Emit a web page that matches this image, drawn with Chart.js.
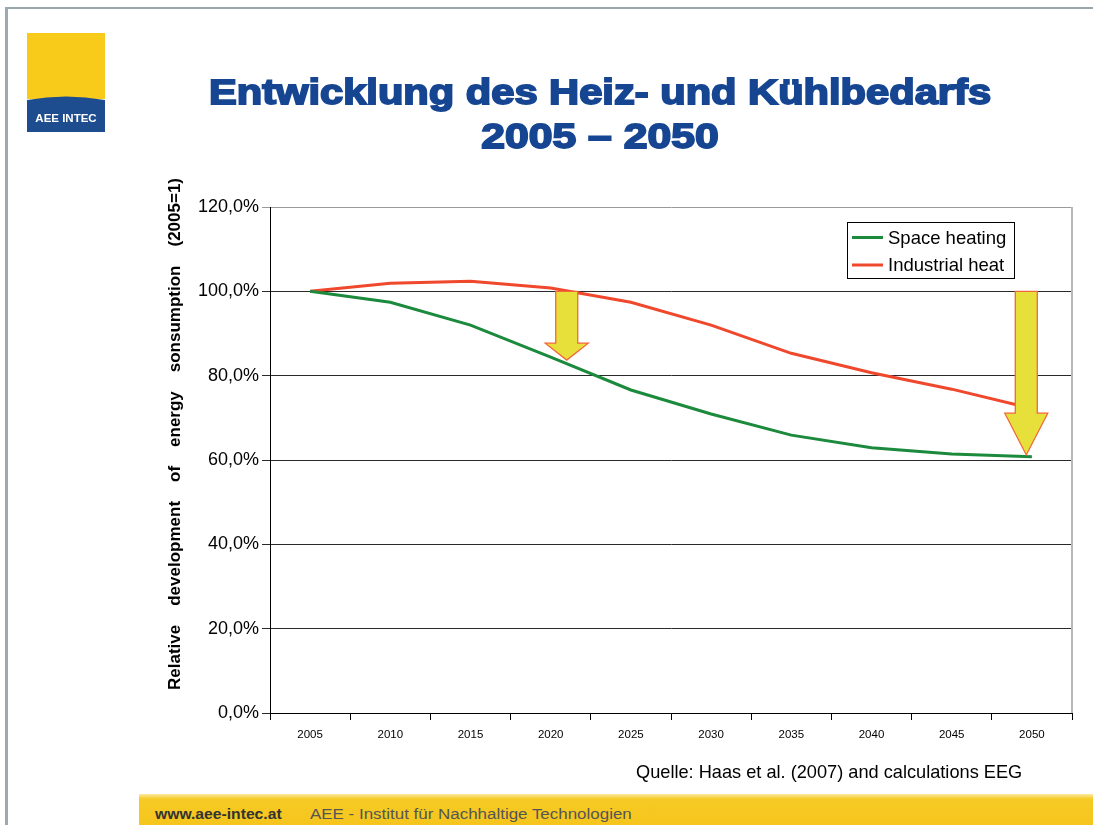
<!DOCTYPE html>
<html lang="de">
<head>
<meta charset="utf-8">
<title>Entwicklung des Heiz- und Kühlbedarfs 2005 – 2050</title>
<script src="https://cdn.jsdelivr.net/npm/chart.js@4.4.1/dist/chart.umd.min.js"></script>
<style>
  html, body { margin: 0; padding: 0; background: #fff; }
  body { width: 1093px; height: 825px; position: relative; overflow: hidden; font-family: "Liberation Sans", Arial, sans-serif; }
  #chart { position: absolute; left: 0; top: 0; }
  .frame-top { position: absolute; left: 5px; top: 7px; width: 1088px; height: 2px; background: #9aa6ae; }
  .frame-left { position: absolute; left: 5px; top: 7px; width: 3px; height: 818px; background: #9eaab2; }
  .logo { position: absolute; left: 27px; top: 33px; }
  .title { position: absolute; left: 0; width: 1200px; text-align: center; color: #164592;
           font-weight: bold; font-size: 35px; -webkit-text-stroke: 1.8px #164592; white-space: nowrap;
           transform-origin: 600px 0; }
  .source { position: absolute; left: 636px; top: 762px; font-size: 18.2px; color: #000; white-space: nowrap; }
  .footer { position: absolute; left: 139px; top: 794px; width: 954px; height: 31px;
            background: linear-gradient(to bottom, #fbeaa0 0px, #f6ca25 5px, #f5c51c 100%); }
  .footer span { position: absolute; top: 12px; font-size: 14px; white-space: nowrap; transform-origin: 0 0; }
  .footer .url { left: 16px; font-weight: bold; color: #333; transform: scaleX(1.12); }
  .footer .inst { left: 171px; color: #555; transform: scaleX(1.21); }
</style>
</head>
<body>
<canvas id="chart" width="1093" height="825"></canvas>

<div class="frame-top"></div>
<div class="frame-left"></div>

<svg class="logo" width="78" height="100" viewBox="0 0 78 100">
  <rect x="0" y="0" width="78" height="66" fill="#f8cb1a"/>
  <path d="M0 67 Q39 60 78 67 L78 99 L0 99 Z" fill="#1d4d8f"/>
  <text x="39" y="89" text-anchor="middle" fill="#fff" font-family="Liberation Sans, Arial" font-weight="bold" font-size="11.5">AEE INTEC</text>
</svg>

<div class="title" style="top:72px; transform: scaleX(1.19);">Entwicklung des Heiz- und Kühlbedarfs</div>
<div class="title" style="top:116px; transform: scaleX(1.22);">2005 – 2050</div>

<div class="source">Quelle: Haas et al. (2007) and calculations EEG</div>

<div class="footer">
  <span class="url">www.aee-intec.at</span>
  <span class="inst">AEE - Institut für Nachhaltige Technologien</span>
</div>

<script>
// Years on the horizontal axis
const years = ['2005', '2010', '2015', '2020', '2025', '2030', '2035', '2040', '2045', '2050'];

// Relative energy consumption, 2005 = 100 %
const spaceHeating   = [100, 97.4, 92.0, 84.4, 76.6, 70.9, 65.9, 62.9, 61.4, 60.8];
const industrialHeat = [100, 101.9, 102.4, 100.8, 97.4, 92.0, 85.3, 80.7, 76.8, 72.2];

// Value axis range and step
const yMin = 0, yMax = 120, yStep = 20;

// Reduction arrows: category position, start value, tip value, value where the head begins
const arrowX     = [3.2, 8.93];
const arrowFrom  = [100, 100];
const arrowTip   = [83.7, 61.2];
const arrowHead  = [87.7, 71.1];

const yTitleWords = ['Relative', 'development', 'of', 'energy', 'sonsumption', '(2005=1)'];

const FONT = '"Liberation Sans", Arial, sans-serif';

// Frame of the plot area: right border in light grey
const plotFrame = {
  id: 'plotFrame',
  beforeDatasetsDraw(chart) {
    const { ctx, chartArea: a } = chart;
    ctx.save();
    ctx.strokeStyle = '#b8b8b8';
    ctx.lineWidth = 2;
    ctx.beginPath();
    ctx.moveTo(a.right, a.top);
    ctx.lineTo(a.right, a.bottom);
    ctx.stroke();
    ctx.restore();
  }
};

// Yellow block arrows showing the drop from 100 %
const dropArrows = {
  id: 'dropArrows',
  afterDatasetsDraw(chart) {
    const { ctx, scales: { x, y } } = chart;
    const shaftHalf = 11, headHalf = 21.5;
    ctx.save();
    for (let i = 0; i < arrowX.length; i++) {
      const cx = x.getPixelForValue(arrowX[i]);
      const top = y.getPixelForValue(arrowFrom[i]);
      const tip = y.getPixelForValue(arrowTip[i]);
      const head = y.getPixelForValue(arrowHead[i]);
      ctx.beginPath();
      ctx.moveTo(cx - shaftHalf, top);
      ctx.lineTo(cx + shaftHalf, top);
      ctx.lineTo(cx + shaftHalf, head);
      ctx.lineTo(cx + headHalf, head);
      ctx.lineTo(cx, tip);
      ctx.lineTo(cx - headHalf, head);
      ctx.lineTo(cx - shaftHalf, head);
      ctx.closePath();
      ctx.fillStyle = '#e8e03a';
      ctx.fill();
      ctx.strokeStyle = '#f2673a';
      ctx.lineWidth = 1.3;
      ctx.stroke();
    }
    ctx.restore();
  }
};

// Boxed legend inside the plot area, top right
const boxLegend = {
  id: 'boxLegend',
  afterDraw(chart) {
    const { ctx, chartArea: a } = chart;
    const w = 167, h = 56;
    const left = a.right - 58 - w, top = a.top + 15;
    ctx.save();
    ctx.fillStyle = '#fff';
    ctx.fillRect(left, top, w, h);
    ctx.strokeStyle = '#000';
    ctx.lineWidth = 1;
    ctx.strokeRect(left + 0.5, top + 0.5, w, h);
    ctx.font = '18.5px ' + FONT;
    ctx.textBaseline = 'middle';
    chart.data.datasets.forEach((ds, i) => {
      const yy = top + 15.5 + i * 27.5;
      ctx.strokeStyle = ds.borderColor;
      ctx.lineWidth = 3;
      ctx.beginPath();
      ctx.moveTo(left + 5, yy);
      ctx.lineTo(left + 36, yy);
      ctx.stroke();
      ctx.fillStyle = '#000';
      ctx.fillText(ds.label, left + 41, yy + 1);
    });
    ctx.restore();
  }
};

// Rotated value-axis title, words spread along the axis
const yAxisTitle = {
  id: 'yAxisTitle',
  afterDraw(chart) {
    const { ctx } = chart;
    const cx = 175, start = 690, end = 178;
    ctx.save();
    ctx.font = 'bold 17px ' + FONT;
    ctx.fillStyle = '#000';
    ctx.textBaseline = 'middle';
    const widths = yTitleWords.map(w => ctx.measureText(w).width);
    const total = widths.reduce((s, v) => s + v, 0);
    const gap = ((start - end) - total) / (yTitleWords.length - 1);
    ctx.translate(cx, start);
    ctx.rotate(-Math.PI / 2);
    let pos = 0;
    yTitleWords.forEach((w, i) => {
      ctx.fillText(w, pos, 0);
      pos += widths[i] + gap;
    });
    ctx.restore();
  }
};

new Chart(document.getElementById('chart'), {
  type: 'line',
  data: {
    labels: years,
    datasets: [
      { label: 'Space heating', data: spaceHeating, borderColor: '#1c8a3c', borderWidth: 3, pointRadius: 0, tension: 0, fill: false },
      { label: 'Industrial heat', data: industrialHeat, borderColor: '#f0482c', borderWidth: 3, pointRadius: 0, tension: 0, fill: false }
    ]
  },
  options: {
    responsive: false,
    animation: false,
    layout: { padding: { left: 150, top: 207, right: 21, bottom: 60 } },
    plugins: { legend: { display: false }, tooltip: { enabled: false }, title: { display: false } },
    scales: {
      x: {
        type: 'category',
        offset: true,
        grid: { offset: true, drawOnChartArea: false, color: '#000', tickLength: 7, lineWidth: 1 },
        border: { color: '#000', width: 1 },
        ticks: { color: '#000', font: { family: FONT, size: 11.5 }, padding: 8, maxRotation: 0, autoSkip: false },
        afterFit(s) { s.height = 52; }
      },
      y: {
        min: yMin, max: yMax,
        ticks: {
          stepSize: yStep, color: '#000', padding: 3,
          font: { family: FONT, size: 18 },
          callback: v => v.toFixed(1).replace('.', ',') + '%'
        },
        grid: {
          tickLength: 8, lineWidth: 1,
          color: c => (c.tick && c.tick.value === yMax) ? '#9a9a9a' : '#2a2a2a'
        },
        border: { color: '#000', width: 1 },
        afterFit(s) { s.width = 120; }
      }
    }
  },
  plugins: [plotFrame, dropArrows, boxLegend, yAxisTitle]
});
</script>
</body>
</html>
